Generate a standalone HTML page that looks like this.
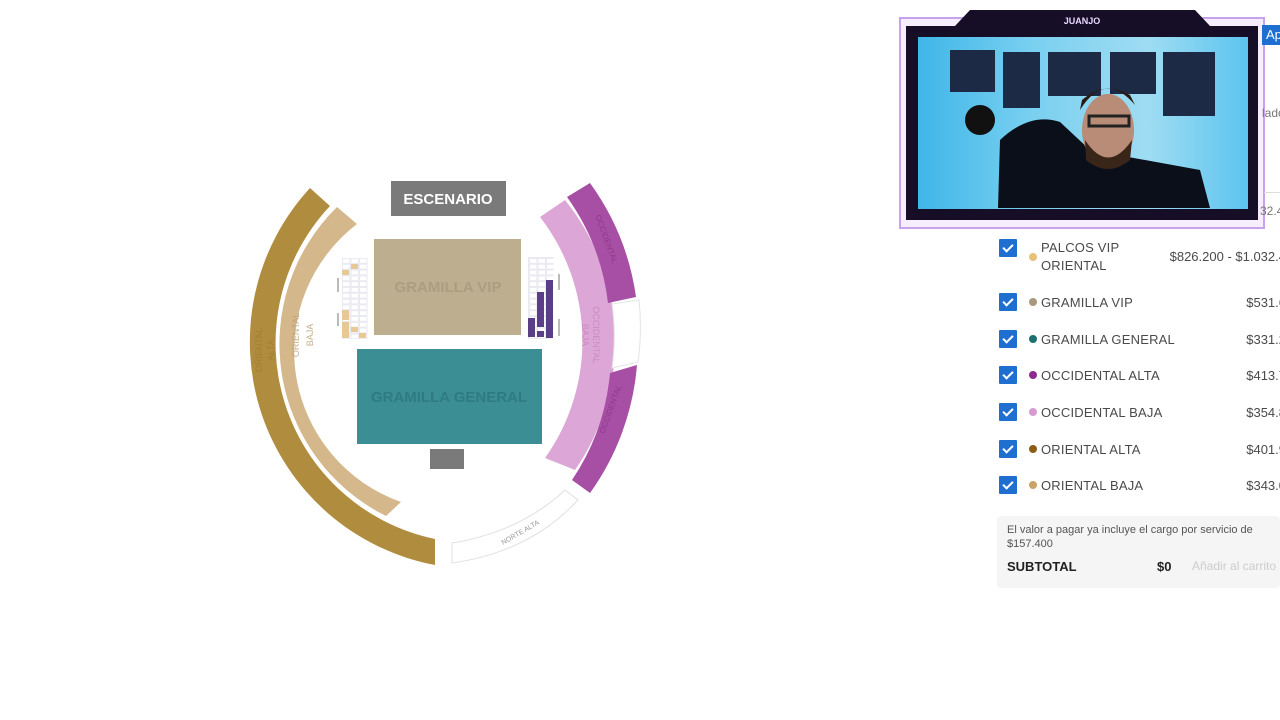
<!DOCTYPE html>
<html><head><meta charset="utf-8"><style>
html,body{margin:0;padding:0;width:1280px;height:720px;overflow:hidden;background:#fff;font-family:"Liberation Sans",sans-serif}
.row{position:absolute;left:999px;width:281px;font-size:13px;color:#4a4a4a;white-space:nowrap}
.cb{position:absolute;left:0;width:18px;height:18px;background:#1f6fd1;border-radius:1px}
.cb:after{content:"";position:absolute;left:6px;top:3px;width:4px;height:8px;border:solid #fff;border-width:0 2px 2px 0;transform:rotate(45deg)}
.dot{position:absolute;left:30px;width:8px;height:8px;border-radius:50%}
.lbl{position:absolute;left:42px;letter-spacing:.2px}
.pr{position:absolute;right:0;}
</style></head><body>
<svg width="1280" height="720" style="position:absolute;left:0;top:0">
<defs>
<pattern id="g" x="342" y="258" width="8.5" height="5.8" patternUnits="userSpaceOnUse"><rect x="0.5" y="0.5" width="7.5" height="4.8" fill="#fff" stroke="#dcdce8" stroke-width="0.6"/></pattern>
<linearGradient id="cam" x1="0" y1="0" x2="1" y2="0"><stop offset="0" stop-color="#3fb6e8"/><stop offset="0.35" stop-color="#7ad0f0"/><stop offset="0.7" stop-color="#9fdcf2"/><stop offset="1" stop-color="#5cc4ef"/></linearGradient>
</defs>
<!-- oriental alta -->
<path d="M310,188 A227,227 0 0 0 435,565 L435,539 A200,200 0 0 1 330,206 Z" fill="#b08c3e"/>
<!-- oriental baja -->
<path d="M337,207 A192,192 0 0 0 386,516 L401,502 A160,160 0 0 1 357,224 Z" fill="#d4b88c"/>
<!-- occidental baja -->
<path d="M565,200 A225,225 0 0 1 575,470 L545,458 A202,202 0 0 0 540,217 Z" fill="#dca6d6"/>
<!-- occ alta -->
<path d="M590,183 A255,255 0 0 1 636,297 L608,303 A228,228 0 0 0 567,197 Z" fill="#a64fa4"/>
<path d="M637,365 A255,255 0 0 1 590,493 L572,480 A228,228 0 0 0 610,373 Z" fill="#a64fa4"/>
<path d="M612,304 L639,300 A255,255 0 0 1 638,362 L612,368 A228,228 0 0 0 612,304 Z" fill="#fff" stroke="#e4e4e4"/>
<path d="M452,543 Q520,532 565,490 L578,500 Q530,552 452,563 Z" fill="#fff" stroke="#e0e0e0"/>
<text x="0" y="0" font-size="7" fill="#999" transform="translate(503,545) rotate(-30)">NORTE ALTA</text>
<!-- boxes -->
<rect x="391" y="181" width="115" height="35" fill="#7a7a7a"/>
<text x="448" y="204" font-size="15" fill="#fff" text-anchor="middle" font-weight="bold">ESCENARIO</text>
<rect x="374" y="239" width="147" height="96" fill="#bdae8f"/>
<text x="448" y="292" font-size="15" fill="#ab9d80" text-anchor="middle" font-weight="bold">GRAMILLA VIP</text>
<rect x="357" y="349" width="185" height="95" fill="#3a8e94"/>
<text x="449" y="402" font-size="15" fill="#2f7b82" text-anchor="middle" font-weight="bold">GRAMILLA GENERAL</text>
<rect x="430" y="449" width="34" height="20" fill="#7a7a7a"/>
<!-- grids -->
<rect x="342" y="258" width="25.5" height="81" fill="url(#g)"/>
<rect x="528" y="257" width="25.5" height="82" fill="url(#g)"/>
<g fill="#e6c995"><rect x="351" y="264" width="7" height="5"/><rect x="342" y="270" width="7" height="5"/><rect x="342" y="310" width="7" height="10"/><rect x="342" y="322" width="7" height="16"/><rect x="351" y="327" width="7" height="5"/><rect x="359" y="333" width="7" height="5"/></g>
<g fill="#5a3f86"><rect x="546" y="280" width="7" height="58"/><rect x="537" y="292" width="7" height="35"/><rect x="537" y="331" width="7" height="6"/><rect x="528" y="318" width="7" height="19"/></g>
<g stroke="#777" stroke-width="1"><line x1="338" y1="278" x2="338" y2="292"/><line x1="338" y1="313" x2="338" y2="326"/><line x1="559" y1="274" x2="559" y2="290"/><line x1="559" y1="319" x2="559" y2="336"/></g>
<g font-size="9" fill="#9a7a35" opacity="0.7"><text transform="translate(262,350) rotate(-90)" text-anchor="middle">ORIENTAL</text><text transform="translate(274,350) rotate(-90)" text-anchor="middle">ALTA</text></g>
<g font-size="9" fill="#b89c70" opacity="0.8"><text transform="translate(299,335) rotate(-90)" text-anchor="middle">ORIENTAL</text><text transform="translate(313,335) rotate(-90)" text-anchor="middle">BAJA</text></g>
<g font-size="9" fill="#c88cc2"><text transform="translate(593,335) rotate(90)" text-anchor="middle">OCCIDENTAL</text><text transform="translate(582,335) rotate(90)" text-anchor="middle">BAJA</text></g>
<g font-size="8" fill="#8c3a8a"><text transform="translate(604,240) rotate(70)" text-anchor="middle">OCCIDENTAL</text><text transform="translate(613,410) rotate(-70)" text-anchor="middle">OCCIDENTAL</text></g>
<!-- webcam -->
<path d="M900,18 L1264,18 L1264,228 L900,228 Z" fill="#f6eefc" stroke="#c7a3ee" stroke-width="2"/>
<path d="M906,26 L955,26 L970,10 L1195,10 L1210,26 L1258,26 L1258,220 L906,220 Z" fill="#160d26"/>
<text x="1082" y="24" font-size="9" font-weight="bold" fill="#e8d8ff" text-anchor="middle">JUANJO</text>
<rect x="918" y="37" width="330" height="172" fill="url(#cam)"/>
<g fill="#1c2a45"><rect x="950" y="50" width="45" height="42"/><rect x="1003" y="52" width="37" height="56"/><rect x="1048" y="52" width="53" height="44"/><rect x="1110" y="52" width="46" height="42"/><rect x="1163" y="52" width="52" height="64"/></g>
<circle cx="980" cy="120" r="15" fill="#111"/>
<path d="M998,208 L1000,140 Q1030,112 1060,122 L1090,150 L1200,170 L1210,208 Z" fill="#0b0f1a"/>
<ellipse cx="1108" cy="130" rx="26" ry="36" fill="#b88c76"/>
<path d="M1080,110 Q1105,70 1135,105 L1130,95 Q1105,80 1082,100 Z" fill="#2a1a12"/>
<rect x="1089" y="116" width="40" height="10" fill="none" stroke="#222" stroke-width="3"/>
<path d="M1085,140 Q1108,175 1132,140 L1130,160 Q1108,178 1086,160 Z" fill="#3a2618"/>
</svg>
<div style="position:absolute;left:1262px;top:25px;width:18px;height:20px;background:#1f6fd1;color:#fff;font-size:13px;line-height:20px;padding-left:4px">Ap</div>
<div style="position:absolute;left:1262px;top:106px;font-size:12px;color:#777">lado</div>
<div style="position:absolute;left:1264px;top:192px;width:16px;border-top:1px solid #ddd"></div>
<div style="position:absolute;left:1260px;top:204px;font-size:12px;color:#777">32.4</div>

<div class="row" style="top:239px;height:36px"><div class="cb" style="top:0"></div><div class="dot" style="top:14px;background:#e8c27a"></div><div class="lbl" style="top:0;line-height:18px">PALCOS VIP<br>ORIENTAL</div><div class="pr" style="top:10px;right:-6px">$826.200 - $1.032.4</div></div>
<div class="row" style="top:293px"><div class="cb"></div><div class="dot" style="top:5px;background:#a8987d"></div><div class="lbl" style="top:2px">GRAMILLA VIP</div><div class="pr" style="top:2px;right:-6px">$531.6</div></div>
<div class="row" style="top:330px"><div class="cb"></div><div class="dot" style="top:5px;background:#1d6f72"></div><div class="lbl" style="top:2px">GRAMILLA GENERAL</div><div class="pr" style="top:2px;right:-6px">$331.2</div></div>
<div class="row" style="top:366px"><div class="cb"></div><div class="dot" style="top:5px;background:#8e2a8e"></div><div class="lbl" style="top:2px">OCCIDENTAL ALTA</div><div class="pr" style="top:2px;right:-6px">$413.7</div></div>
<div class="row" style="top:403px"><div class="cb"></div><div class="dot" style="top:5px;background:#d79ad0"></div><div class="lbl" style="top:2px">OCCIDENTAL BAJA</div><div class="pr" style="top:2px;right:-6px">$354.8</div></div>
<div class="row" style="top:440px"><div class="cb"></div><div class="dot" style="top:5px;background:#8a5e14"></div><div class="lbl" style="top:2px">ORIENTAL ALTA</div><div class="pr" style="top:2px;right:-6px">$401.9</div></div>
<div class="row" style="top:476px"><div class="cb"></div><div class="dot" style="top:5px;background:#c9a36a"></div><div class="lbl" style="top:2px">ORIENTAL BAJA</div><div class="pr" style="top:2px;right:-6px">$343.0</div></div>

<div style="position:absolute;left:997px;top:516px;width:283px;height:72px;background:#f5f5f6;border-radius:4px"></div>
<div style="position:absolute;left:1007px;top:523px;font-size:11px;color:#555;line-height:14px;white-space:nowrap">El valor a pagar ya incluye el cargo por servicio de<br>$157.400</div>
<div style="position:absolute;left:1007px;top:559px;font-size:13px;font-weight:bold;color:#222">SUBTOTAL</div>
<div style="position:absolute;left:1157px;top:559px;font-size:13px;font-weight:bold;color:#222">$0</div>
<div style="position:absolute;left:1192px;top:559px;font-size:12px;color:#ccc;white-space:nowrap">Añadir al carrito</div>
</body></html>
